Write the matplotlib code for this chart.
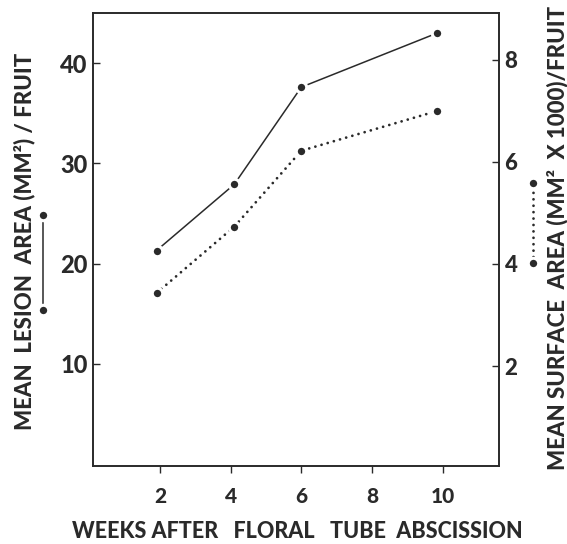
import matplotlib
matplotlib.use('Agg')
import matplotlib.pyplot as plt
from matplotlib.lines import Line2D

# data
weeks         = [1.9, 4.1, 6.0, 9.85]
lesion_area   = [21.3, 27.9, 37.6, 43.0]   # mm^2 / fruit (left axis, solid)
surface_area  = [3.43, 4.73, 6.22, 7.0]    # mm^2 x 1000 / fruit (right axis, dotted)

x_ticks  = [2, 4, 6, 8, 10]
yl_ticks = [10, 20, 30, 40]
yr_ticks = [2, 4, 6, 8]

ink = '#2a2a2a'
plt.rcParams['font.family'] = ['Lato', 'DejaVu Sans']
plt.rcParams['font.weight'] = 'black'

W, H = 567, 544
fig = plt.figure(figsize=(W / 100, H / 100), dpi=100)
ax = fig.add_axes([93 / W, 1 - 466 / H, (499 - 93) / W, (466 - 13) / H])
ax2 = ax.twinx()

mk = dict(marker='o', ms=7.5, mfc=ink, mec='white', mew=2.2)

ax.plot(weeks, lesion_area, color=ink, lw=1.1, **mk)
ax2.plot(weeks, surface_area, color=ink, lw=2.0,
         linestyle=(0, (0.01, 2.3)), dash_capstyle='round', **mk)

ax.set_xlim(0.1, 11.6)
ax.set_ylim(-0.2, 45)
ax2.set_ylim(0.04, 8.92)

ax.set_xticks(x_ticks)
ax.set_yticks(yl_ticks)
ax2.set_yticks(yr_ticks)

ax.tick_params(axis='y', direction='in', length=5, width=1, color=ink,
               labelsize=17, pad=4, labelcolor=ink)
ax2.tick_params(axis='y', direction='in', length=5, width=1, color=ink,
                labelsize=16, pad=4, labelcolor=ink)
ax.tick_params(axis='x', direction='out', length=5, width=1, color=ink,
               labelsize=15, pad=10, labelcolor=ink)

for a in (ax, ax2):
    for s in a.spines.values():
        s.set_color(ink)
        s.set_linewidth(1.2)

# axis titles
fig.text(24 / W, 1 - 241 / H, 'MEAN  LESION  AREA (MM²) / FRUIT', rotation=90,
         ha='center', va='center', fontsize=16, color=ink)
fig.text(557 / W, 1 - 238 / H, 'MEAN SURFACE  AREA (MM²  X 1000)/FRUIT', rotation=90,
         ha='center', va='center', fontsize=16, color=ink)
fig.text(297 / W, 1 - 532 / H, 'WEEKS AFTER   FLORAL   TUBE  ABSCISSION',
         ha='center', va='center', fontsize=15.5, color=ink)

# line keys beside the axis titles
fig.add_artist(Line2D([43 / W, 43 / W], [1 - 310 / H, 1 - 215 / H], color=ink, lw=1.1,
                      transform=fig.transFigure, **mk))
fig.add_artist(Line2D([533 / W, 533 / W], [1 - 263 / H, 1 - 183 / H], color=ink, lw=2.0,
                      linestyle=(0, (0.01, 2.3)), dash_capstyle='round',
                      transform=fig.transFigure, **mk))

fig.savefig('out.png', dpi=100, facecolor='white')
